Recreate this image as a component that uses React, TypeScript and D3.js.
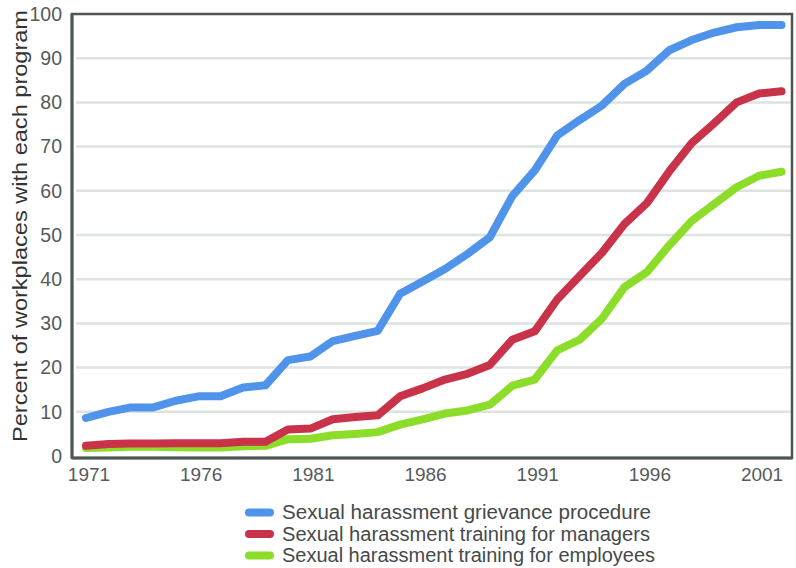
import React from "react";
import * as d3 from "d3";

const years: number[] = d3.range(1971, 2003);
const grievance: number[] = [8.6, 10, 11, 11, 12.5, 13.5, 13.5, 15.5, 16, 21.7, 22.5, 26, 27.2, 28.3, 36.7, 39.5, 42.3, 45.7, 49.5, 58.8, 64.6, 72.5, 76, 79.3, 84.2, 87.2, 91.8, 94.1, 95.8, 97, 97.5, 97.5];
const managers: number[] = [2.3, 2.7, 2.8, 2.8, 2.9, 2.9, 2.9, 3.2, 3.2, 6.0, 6.2, 8.3, 8.8, 9.2, 13.5, 15.3, 17.3, 18.6, 20.6, 26.3, 28.2, 35.4, 40.7, 46, 52.5, 57.2, 64.4, 70.8, 75.3, 80, 82, 82.5];
const employees: number[] = [1.8, 1.9, 2.1, 2.1, 2.0, 1.9, 1.9, 2.2, 2.3, 3.8, 3.9, 4.7, 5.0, 5.4, 7.1, 8.3, 9.6, 10.3, 11.6, 15.9, 17.3, 23.9, 26.3, 31.1, 38.2, 41.6, 47.7, 53.2, 57, 60.8, 63.4, 64.3];
const seriesNames: string[] = [
  "Sexual harassment grievance procedure",
  "Sexual harassment training for managers",
  "Sexual harassment training for employees",
];
const seriesColors: string[] = ["#4f94ea", "#c8334a", "#8cdc2a"];
const yTicks: number[] = [0, 10, 20, 30, 40, 50, 60, 70, 80, 90, 100];
const xTicks: number[] = [1971, 1976, 1981, 1986, 1991, 1996, 2001];
const yTitle = "Percent of workplaces with each program";

export default function App() {
  const W = 796, H = 568;
  const x = d3.scaleLinear().domain([1971, 2002]).range([86, 781.5]);
  const y = d3.scaleLinear().domain([0, 100]).range([456, 14]);
  const line = d3.line<number>().x((_, i) => x(years[i])).y((d) => y(d));
  const series = [grievance, managers, employees];
  const font = "'Liberation Sans', Arial, sans-serif";
  const frameL = 72, frameR = 792, frameT = 14, frameB = 458;
  const legendLen = [369, 368, 373];
  return (
    <svg width={W} height={H} style={{ position: "absolute", left: 0, top: 0, background: "#fff" }}>
      <rect x={0} y={0} width={W} height={H} fill="#fff" />
      {yTicks.filter((t) => t > 0 && t < 100).map((t) => (
        <line key={t} x1={frameL + 4} x2={frameR} y1={y(t)} y2={y(t)} stroke="#dde2e2" strokeWidth={2.5} />
      ))}
      {series.map((s, i) => (
        <path key={i} d={line(s) || ""} fill="none" stroke={seriesColors[i]} strokeWidth={8}
          strokeLinejoin="round" strokeLinecap="round" />
      )).reverse()}
      <path d={`M${frameL},${frameT}H${frameR}V${frameB}H${frameL}Z`} fill="none" stroke="#4d5555" strokeWidth={2.5} />
      <line x1={frameL} x2={frameL} y1={frameT} y2={frameB} stroke="#4d5555" strokeWidth={3} />
      <line x1={frameL} x2={frameR} y1={frameB} y2={frameB} stroke="#4d5555" strokeWidth={3} />
      {yTicks.map((t) => (
        <text key={t} x={62} y={y(t)} dy="0.35em" textAnchor="end" fontFamily={font} fontSize={19.5} fill="#555a5a">{t}</text>
      ))}
      {xTicks.map((t) => (
        <text key={t} x={x(t) + 3} y={481} textAnchor="middle" fontFamily={font} fontSize={19} fill="#555a5a">{t}</text>
      ))}
      <text transform={`translate(26.5,226) rotate(-90)`} textAnchor="middle" fontFamily={font} fontSize={20}
        fill="#333" textLength={432} lengthAdjust="spacingAndGlyphs">
        {yTitle}
      </text>
      {seriesNames.map((n, i) => (
        <g key={n} transform={`translate(0,${512.5 + i * 21.5})`}>
          <line x1={249} x2={270} y1={0} y2={0} stroke={seriesColors[i]} strokeWidth={8} strokeLinecap="round" />
          <text x={282} y={6.5} fontFamily={font} fontSize={19.5} fill="#454a4a"
            textLength={legendLen[i]} lengthAdjust="spacingAndGlyphs">{n}</text>
        </g>
      ))}
    </svg>
  );
}
